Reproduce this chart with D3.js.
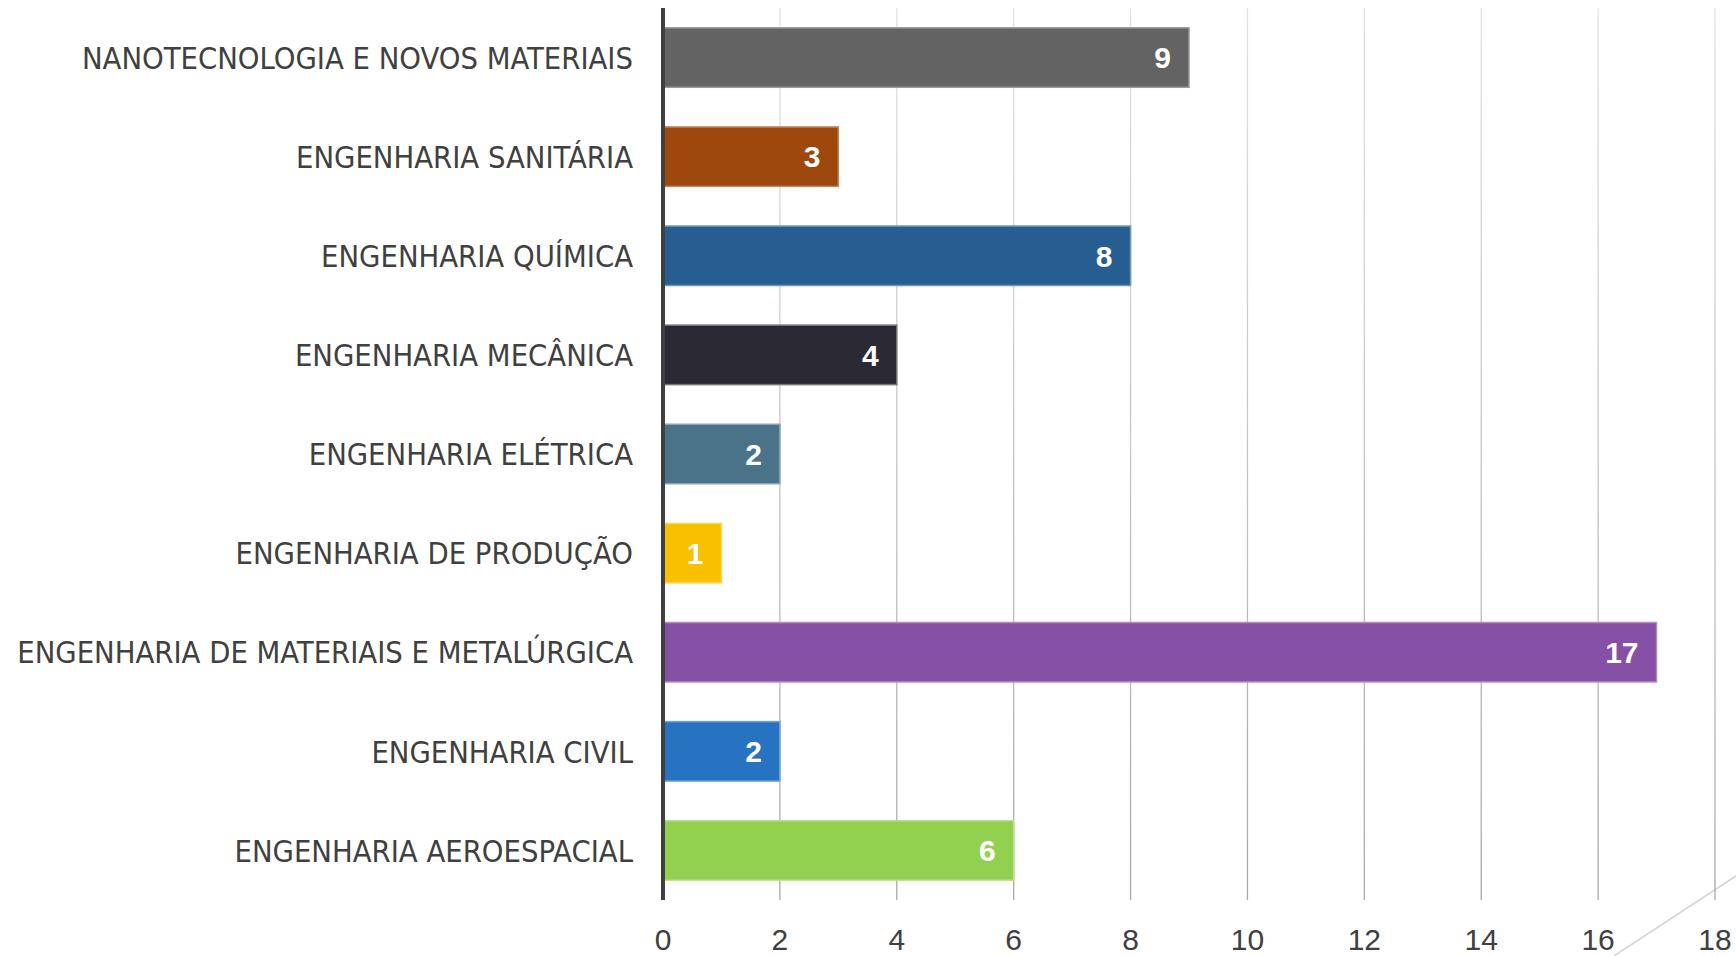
<!DOCTYPE html>
<html>
<head>
<meta charset="utf-8">
<script src="https://cdn.jsdelivr.net/npm/d3@7"></script>
<style>
  html, body { margin: 0; padding: 0; background: #fff; }
  svg { display: block; }
</style>
</head>
<body>
<div id="chart"></div>
<script>
(function () {
  "use strict";

  /* Data (top to bottom as drawn) */
  var categories = [
    "NANOTECNOLOGIA E NOVOS MATERIAIS",
    "ENGENHARIA SANITÁRIA",
    "ENGENHARIA QUÍMICA",
    "ENGENHARIA MECÂNICA",
    "ENGENHARIA ELÉTRICA",
    "ENGENHARIA DE PRODUÇÃO",
    "ENGENHARIA DE MATERIAIS E METALÚRGICA",
    "ENGENHARIA CIVIL",
    "ENGENHARIA AEROESPACIAL"
  ];
  var values = [9, 3, 8, 4, 2, 1, 17, 2, 6];
  var barColors = ["#636363", "#9e480e", "#265e91", "#2b2a34", "#4a7389",
                   "#f8c000", "#8650a6", "#2872c2", "#92d050"];
  var xTicks = [0, 2, 4, 6, 8, 10, 12, 14, 16, 18];

  var W = 1736, H = 956;
  var svg = d3.select("#chart").append("svg").attr("width", W).attr("height", H);

  var x = d3.scaleLinear().domain([0, 18]).range([663, 1715]);
  var y = d3.scaleBand().domain(categories).range([8, 900])
    .paddingInner(0.4).paddingOuter(0.2);

  // gridlines fade darker toward the bottom
  var grad = svg.append("defs").append("linearGradient")
    .attr("id", "gridGrad").attr("gradientUnits", "userSpaceOnUse")
    .attr("x1", 0).attr("y1", 8).attr("x2", 0).attr("y2", 900);
  grad.append("stop").attr("offset", "0%").attr("stop-color", "#e2e2e2");
  grad.append("stop").attr("offset", "100%").attr("stop-color", "#a8a8a8");

  // decorative slide stroke, bottom right
  svg.append("line")
    .attr("x1", 1614).attr("y1", 956).attr("x2", 1736).attr("y2", 876)
    .attr("stroke", "#d4d4d4").attr("stroke-width", 1.5);

  svg.append("g").selectAll("line").data(xTicks.slice(1)).join("line")
    .attr("x1", function (d) { return x(d); }).attr("x2", function (d) { return x(d); })
    .attr("y1", 8).attr("y2", 900)
    .attr("stroke", "url(#gridGrad)").attr("stroke-width", 1.3);

  // bars
  svg.append("g").selectAll("rect").data(values).join("rect")
    .attr("x", x(0))
    .attr("y", function (d, i) { return y(categories[i]); })
    .attr("width", function (d) { return x(d) - x(0); })
    .attr("height", y.bandwidth())
    .attr("fill", function (d, i) { return barColors[i]; })
    .attr("stroke", function (d, i) { return d3.interpolateRgb(barColors[i], "#fff")(0.35); })
    .attr("stroke-width", 1.5);

  // value labels inside bar ends
  svg.append("g").selectAll("text").data(values).join("text")
    .attr("x", function (d) { return x(d) - 18; })
    .attr("y", function (d, i) { return y(categories[i]) + y.bandwidth() / 2; })
    .attr("dy", "0.36em")
    .attr("text-anchor", "end")
    .style("font-family", "'Liberation Sans', Arial, sans-serif")
    .style("font-weight", "700").style("font-size", "30px").style("fill", "#fff")
    .text(function (d) { return d; });

  // zero axis line
  svg.append("line")
    .attr("x1", x(0)).attr("x2", x(0)).attr("y1", 8).attr("y2", 900)
    .attr("stroke", "#404040").attr("stroke-width", 4);

  // category labels
  var labels = svg.append("g").selectAll("text").data(categories).join("text")
    .attr("text-anchor", "end")
    .attr("dy", "0.36em")
    .style("font-family", "'Liberation Sans Narrow', 'DejaVu Sans Condensed', 'Liberation Sans', sans-serif")
    .style("font-size", "31px").style("fill", "#404040")
    .text(function (d) { return d; });

  var longest = d3.max(labels.nodes(), function (n) { return n.getComputedTextLength(); });
  var sx = 616 / longest;
  labels.attr("transform", function (d) {
    return "translate(633," + (y(d) + y.bandwidth() / 2) + ") scale(" + sx + ",1)";
  });

  // x tick labels
  svg.append("g").selectAll("text").data(xTicks).join("text")
    .attr("x", function (d) { return x(d); }).attr("y", 950)
    .attr("text-anchor", "middle")
    .style("font-family", "'Liberation Sans', Arial, sans-serif")
    .style("font-size", "30px").style("fill", "#404040")
    .text(function (d) { return d; });
})();
</script>
</body>
</html>
